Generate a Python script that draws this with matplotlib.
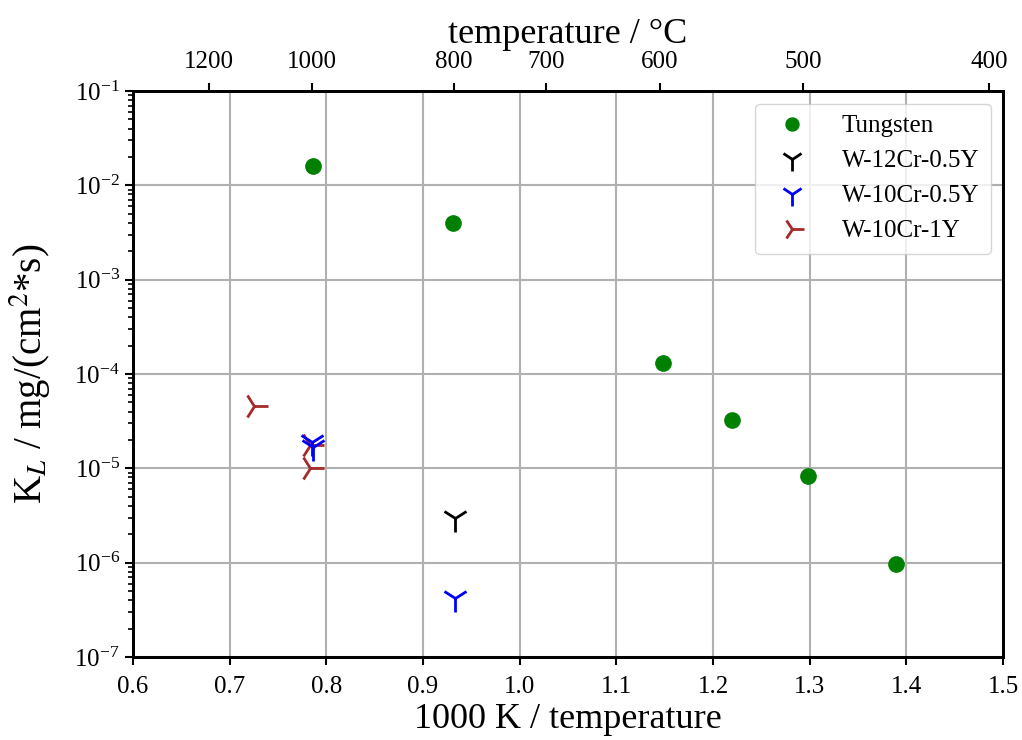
import numpy as np
import matplotlib
matplotlib.use("Agg")
import matplotlib.pyplot as plt

plt.rcParams['font.family'] = ['Liberation Serif', 'DejaVu Serif']
plt.rcParams['mathtext.fontset'] = 'stix'

# data: inverse temperature (1000 K / T) and rate constant K_L
tung_x = [0.786, 0.931, 1.148, 1.220, 1.298, 1.389]
tung_y = [1.6e-2, 4.0e-3, 1.31e-4, 3.25e-5, 8.3e-6, 9.7e-7]
w12_x = [0.933]
w12_y = [3.0e-6]
w10_05_x = [0.933, 0.785, 0.786]
w10_05_y = [4.2e-7, 1.9e-5, 1.68e-5]
w10_1_x = [0.725, 0.783, 0.783]
w10_1_y = [4.6e-5, 1.0e-5, 1.77e-5]

top_temps_C = [1200, 1000, 800, 700, 600, 500, 400]
x_ticks = [0.6, 0.7, 0.8, 0.9, 1.0, 1.1, 1.2, 1.3, 1.4, 1.5]

fig = plt.figure(figsize=(10.22, 7.40), dpi=100)
ax = fig.add_axes([133/1022, 1 - 657/740, (1003-133)/1022, (657-91)/740])

ax.plot(tung_x, tung_y, 'o', color='green', ms=11, ls='none', label='Tungsten', zorder=3)
ax.plot(w12_x, w12_y, '1', color='black', ms=20, mew=2, ls='none', label='W-12Cr-0.5Y', zorder=3)
ax.plot(w10_1_x, w10_1_y, '4', color='brown', ms=20, mew=2, ls='none', label='W-10Cr-1Y', zorder=3)
ax.plot(w10_05_x, w10_05_y, '1', color='blue', ms=20, mew=2, ls='none', label='W-10Cr-0.5Y', zorder=4)

ax.set_yscale('log')
ax.set_xlim(0.6, 1.5)
ax.set_ylim(1e-7, 1e-1)
ax.set_xticks(x_ticks)
ax.set_xticklabels([f"{v:.1f}" for v in x_ticks])
ax.grid(True, which='major', color='#b0b0b0', lw=1.5)
ax.set_axisbelow(True)
ax.tick_params(axis='both', which='major', labelsize=18, length=6, width=1.5)
ax.tick_params(axis='x', which='major', pad=8)
ax.tick_params(axis='y', which='minor', length=3.5, width=1.2)
for s in ax.spines.values():
    s.set_linewidth(2)
ax.set_xlabel('1000 K / temperature', fontsize=26, labelpad=3)
ax.set_ylabel('K$_L$ / mg/(cm$^2$*s)', fontsize=28, labelpad=15)

handles, labels = ax.get_legend_handles_labels()
order = ['Tungsten', 'W-12Cr-0.5Y', 'W-10Cr-0.5Y', 'W-10Cr-1Y']
hmap = dict(zip(labels, handles))
ax.legend([hmap[k] for k in order], order, loc='upper right', fontsize=18,
          borderpad=0.45, labelspacing=0.5, handletextpad=1.0, markerscale=0.85)

# top axis in degrees Celsius
ax2 = ax.twiny()
ax2.set_xlim(ax.get_xlim())
ax2.set_xticks([1000.0 / (t + 273.15) for t in top_temps_C])
ax2.set_xticklabels([str(t) for t in top_temps_C])
ax2.tick_params(axis='x', labelsize=18, length=6, width=1.5, pad=7)
ax2.set_xlabel('temperature / °C', fontsize=26, labelpad=6)
for s in ax2.spines.values():
    s.set_linewidth(2)

fig.savefig('out.png', dpi=100)
